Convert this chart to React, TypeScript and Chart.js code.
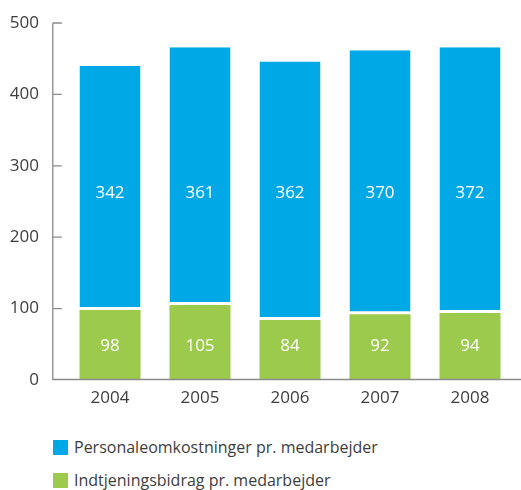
import React, { useEffect, useRef } from "react";
import { Chart, registerables } from "chart.js";

Chart.register(...registerables);

const categories = ["2004", "2005", "2006", "2007", "2008"];
const personaleomkostninger = [342, 361, 362, 370, 372];
const indtjeningsbidrag = [98, 105, 84, 92, 94];
const yTickValues = [0, 100, 200, 300, 400, 500];
const seriesNames = [
  "Personaleomkostninger pr. medarbejder",
  "Indtjeningsbidrag pr. medarbejder",
];

const BLUE = "#00a9e5";
const GREEN = "#9bca4c";
const TEXT = "#3d3d3d";
const AXIS = "#8a8a8a";
const FONT = "'Open Sans', 'Noto Sans', sans-serif";

export default function App() {
  const ref = useRef<HTMLCanvasElement | null>(null);

  useEffect(() => {
    if (!ref.current) return;
    const labelLevels = [48, 262];
    const decor = {
      id: "decor",
      afterDatasetsDraw(chart: any) {
        const { ctx, chartArea } = chart;
        const y = chart.scales.y;
        ctx.save();
        ctx.fillStyle = "#ffffff";
        ctx.font = `17px ${FONT}`;
        ctx.textAlign = "center";
        ctx.textBaseline = "middle";
        chart.data.datasets.forEach((ds: any, di: number) => {
          const meta = chart.getDatasetMeta(di);
          meta.data.forEach((bar: any, i: number) => {
            ctx.fillText(String(ds.data[i]), bar.x, y.getPixelForValue(labelLevels[di]));
          });
        });
        ctx.strokeStyle = AXIS;
        ctx.lineWidth = 1.3;
        const ax = 52.8;
        const bottom = chartArea.bottom - 0.5;
        ctx.beginPath();
        ctx.moveTo(ax, y.getPixelForValue(500));
        ctx.lineTo(ax, bottom);
        ctx.lineTo(chart.width, bottom);
        yTickValues.forEach((v) => {
          if (v === 0) return;
          const py = y.getPixelForValue(v);
          ctx.moveTo(ax, py);
          ctx.lineTo(ax + 9, py);
        });
        ctx.stroke();
        ctx.restore();
      },
    };

    const chart = new Chart(ref.current, {
      type: "bar",
      data: {
        labels: categories,
        datasets: [
          {
            label: seriesNames[1],
            data: indtjeningsbidrag,
            backgroundColor: GREEN,
            borderWidth: 0,
            categoryPercentage: 1,
            barPercentage: 0.678,
          },
          {
            label: seriesNames[0],
            data: personaleomkostninger,
            backgroundColor: BLUE,
            borderColor: "#ffffff",
            borderSkipped: false,
            borderWidth: { top: 0, right: 0, bottom: 3, left: 0 },
            categoryPercentage: 1,
            barPercentage: 0.678,
          },
        ],
      },
      options: {
        animation: false,
        responsive: false,
        maintainAspectRatio: false,
        layout: { padding: { top: 23, right: 6, left: 0, bottom: 0 } },
        plugins: { legend: { display: false }, tooltip: { enabled: false } },
        scales: {
          x: {
            stacked: true,
            grid: { display: false, drawTicks: false },
            border: { display: false },
            ticks: { color: TEXT, font: { family: FONT, size: 17 }, padding: 8 },
            afterFit: (s: any) => {
              s.height = 40;
            },
          },
          y: {
            stacked: true,
            min: 0,
            max: 500,
            grid: { display: false, drawTicks: false },
            border: { display: false },
            ticks: {
              stepSize: 100,
              color: TEXT,
              font: { family: FONT, size: 17 },
              padding: 26,
            },
            afterFit: (s: any) => {
              s.width = 65;
              s.paddingTop = 0;
              s.paddingBottom = 0;
            },
          },
        },
      },
      plugins: [decor],
    });
    return () => chart.destroy();
  }, []);

  const colors = [BLUE, GREEN];
  return (
    <div style={{ position: "absolute", left: 0, top: 0, width: 521, height: 490, background: "#fff" }}>
      <canvas ref={ref} width={521} height={420} style={{ display: "block" }} />
      {seriesNames.map((name, i) => (
        <div
          key={name}
          style={{
            position: "absolute",
            left: 53,
            top: 440 + i * 32.5,
            display: "flex",
            alignItems: "center",
            fontFamily: FONT,
            fontSize: 16,
            color: TEXT,
            lineHeight: "15px",
            whiteSpace: "nowrap",
          }}
        >
          <span style={{ display: "inline-block", width: 15, height: 15, background: colors[i], marginRight: 6 }} />
          <span>{name}</span>
        </div>
      ))}
    </div>
  );
}
